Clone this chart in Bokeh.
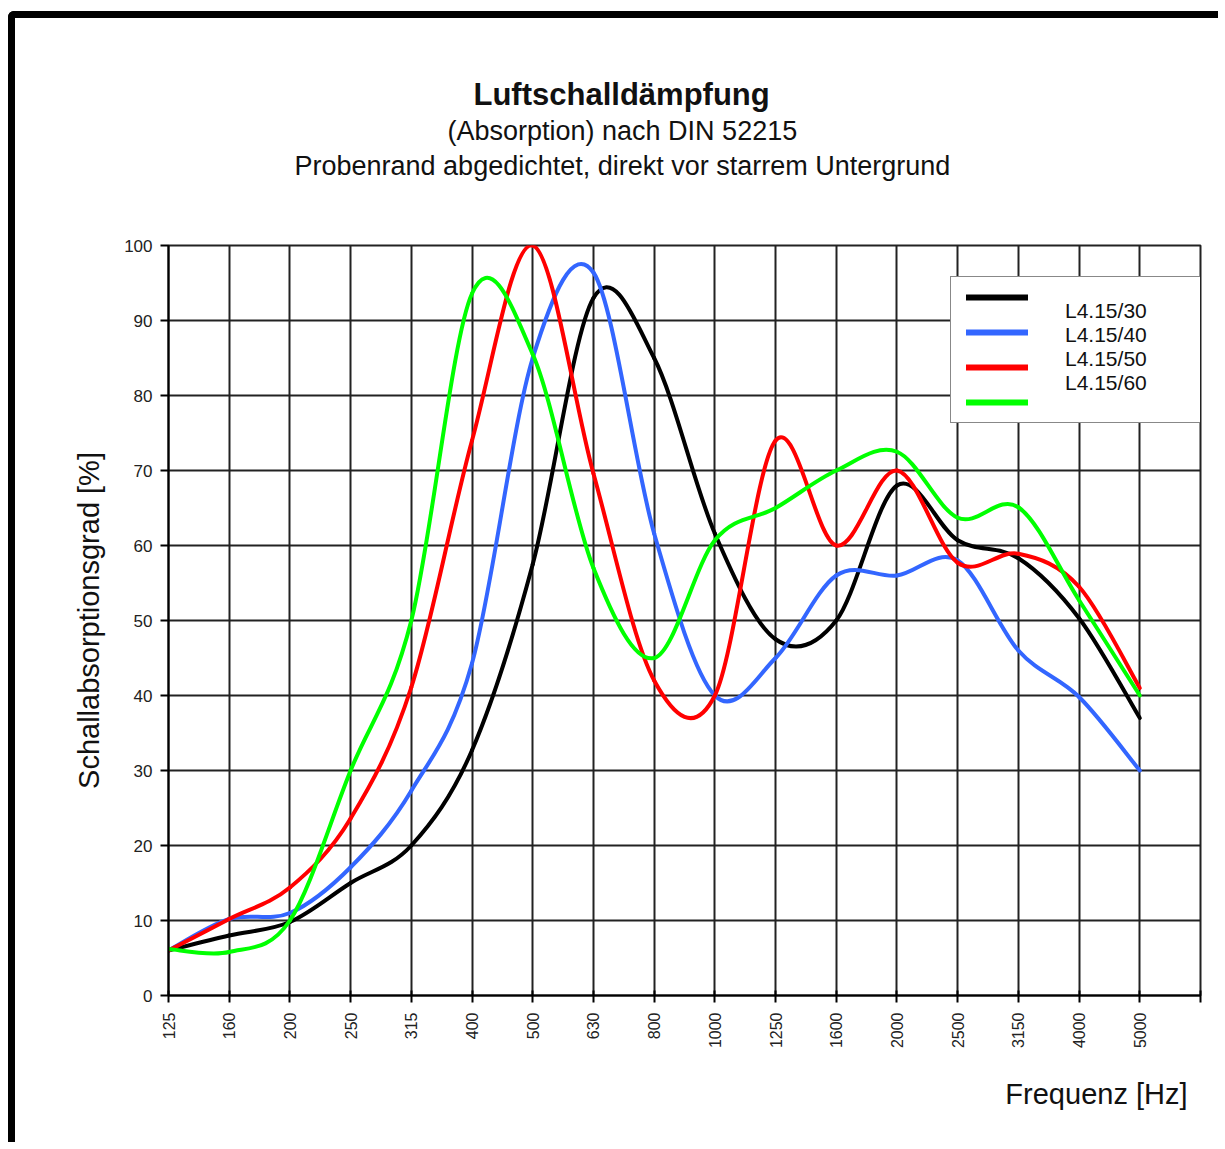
import math
import numpy as np
from bokeh.plotting import figure
from bokeh.models import Range1d, FixedTicker, Legend, LegendItem, Title
from bokeh.core.properties import value
from bokeh.embed import file_html
from bokeh.resources import INLINE

# ---- data ----
freqs = ["125", "160", "200", "250", "315", "400", "500", "630", "800", "1000",
         "1250", "1600", "2000", "2500", "3150", "4000", "5000"]
series_names = ["L4.15/30", "L4.15/40", "L4.15/50", "L4.15/60"]
l30 = [6.0, 8.0, 9.8, 15.0, 20.0, 32.7, 57.5, 93.0, 85.0, 61.6, 47.5, 50.0, 68.0, 60.7, 58.3, 50.3, 37.0]
l40 = [6.0, 10.2, 11.0, 17.1, 27.3, 44.3, 85.0, 96.4, 61.6, 40.0, 45.0, 56.0, 56.0, 58.0, 46.0, 39.8, 30.0]
l50 = [6.0, 10.2, 14.4, 23.6, 41.1, 74.0, 100.0, 69.6, 42.0, 40.0, 74.0, 60.0, 70.0, 57.7, 58.9, 54.5, 41.0]
l60 = [6.2, 5.8, 10.0, 30.0, 50.0, 93.6, 85.5, 57.0, 45.0, 60.7, 65.0, 70.0, 72.5, 63.7, 65.1, 52.7, 40.0]
y_ticks = [0, 10, 20, 30, 40, 50, 60, 70, 80, 90, 100]

colors = ["#000000", "#3366ff", "#ff0000", "#00ff00"]
FONT = "Liberation Sans"

p = figure(width=1210, height=1131, output_backend="svg", toolbar_location=None,
           title=None, x_range=Range1d(0, 17), y_range=Range1d(0, 100),
           min_border_left=153, min_border_top=227, min_border_right=25,
           min_border_bottom=154)
p.styles = {"border-top": "7px solid black", "border-left": "7px solid black",
            "border-top-left-radius": "6px", "margin-top": "11px", "margin-left": "8px"}
p.background_fill_color = "white"
p.border_fill_color = "white"
p.outline_line_color = "#222222"
p.outline_line_width = 2

# grid
p.xgrid.ticker = FixedTicker(ticks=list(range(len(freqs) + 1)))
p.ygrid.ticker = FixedTicker(ticks=y_ticks)
for g in (p.xgrid, p.ygrid):
    g.grid_line_color = "#222222"
    g.grid_line_width = 2

# axes
xa = p.xaxis[0]
xa.ticker = FixedTicker(ticks=list(range(len(freqs) + 1)))
xa.major_label_overrides = {i: f for i, f in enumerate(freqs)} | {len(freqs): ""}
xa.major_label_orientation = math.pi / 2
xa.major_label_text_font = FONT
xa.major_label_text_font_size = "16px"
xa.major_label_text_color = "#222222"
xa.major_label_standoff = 10
xa.major_tick_in = 5
xa.major_tick_out = 7
xa.minor_tick_line_color = None
xa.axis_line_width = 2
xa.major_tick_line_width = 2

ya = p.yaxis[0]
ya.ticker = FixedTicker(ticks=y_ticks)
ya.major_label_text_font = FONT
ya.major_label_text_font_size = "17px"
ya.major_label_text_color = "#222222"
ya.major_label_standoff = 8
ya.major_tick_in = 0
ya.major_tick_out = 8
ya.minor_tick_line_color = None
ya.axis_line_width = 2
ya.major_tick_line_width = 2
ya.axis_label = "Schallabsorptionsgrad [%]"
ya.axis_label_text_font = FONT
ya.axis_label_text_font_size = "29px"
ya.axis_label_text_font_style = "normal"
ya.axis_label_text_color = "#111111"
ya.axis_label_standoff = 16


def bezier_parts(vals):
    n = len(vals)
    x = np.arange(n, dtype=float)
    y = np.asarray(vals, dtype=float)
    xp = np.concatenate([[x[0]], x, [x[-1]]])
    yp = np.concatenate([[y[0]], y, [y[-1]]])
    cx0 = xp[1:n] + (xp[2:n + 1] - xp[0:n - 1]) / 6.0
    cy0 = yp[1:n] + (yp[2:n + 1] - yp[0:n - 1]) / 6.0
    cx1 = xp[2:n + 1] - (xp[3:n + 2] - xp[1:n]) / 6.0
    cy1 = yp[2:n + 1] - (yp[3:n + 2] - yp[1:n]) / 6.0
    return dict(x0=x[:-1], y0=y[:-1], x1=x[1:], y1=y[1:],
                cx0=cx0, cy0=cy0, cx1=cx1, cy1=cy1)


for vals, col in zip([l30, l40, l50, l60], colors):
    d = bezier_parts(vals)
    p.bezier(x0=d["x0"], y0=d["y0"], x1=d["x1"], y1=d["y1"],
             cx0=d["cx0"], cy0=d["cy0"], cx1=d["cx1"], cy1=d["cy1"],
             line_color=col, line_width=4, line_cap="round")

nan2 = [float("nan"), float("nan")]
# legend: box with the coloured lines
line_items = []
for col in colors:
    r = p.line(x=[0, 0], y=nan2, line_color=col, line_width=6, line_cap="round")
    line_items.append(LegendItem(label=value(""), renderers=[r]))
legend = Legend(items=line_items, location=(782, 572), padding=15, spacing=25,
                glyph_width=62, glyph_height=10, label_height=10,
                label_width=173, label_standoff=5,
                label_text_font_size="1px",
                border_line_color="#111111", border_line_width=1.5,
                background_fill_color="white", background_fill_alpha=1.0)
p.add_layout(legend, "center")

# legend: the series names (set as in the reference, between the lines)
text_items = []
for name in series_names:
    r = p.line(x=[0, 0], y=nan2, line_alpha=0)
    text_items.append(LegendItem(label=value(name), renderers=[r]))
legend2 = Legend(items=text_items, location=(896, 600), padding=0, spacing=0,
                 glyph_width=1, glyph_height=1, label_height=24, label_standoff=0,
                 label_text_font=FONT, label_text_font_size="21px",
                 label_text_color="#111111",
                 border_line_color=None, background_fill_alpha=0.0)
p.add_layout(legend2, "center")

# titles (first added = closest to the frame)
p.add_layout(Title(text=" ", text_font_size="10px", standoff=49.5), "above")
p.add_layout(Title(text="Probenrand abgedichtet, direkt vor starrem Untergrund",
                   text_font=FONT, text_font_size="27px", text_font_style="normal",
                   text_color="#111111", align="left", offset=126,
                   vertical_align="bottom", standoff=3), "above")
p.add_layout(Title(text="(Absorption) nach DIN 52215",
                   text_font=FONT, text_font_size="27px", text_font_style="normal",
                   text_color="#111111", align="left", offset=279,
                   vertical_align="bottom", standoff=3), "above")
p.add_layout(Title(text="Luftschalldämpfung",
                   text_font=FONT, text_font_size="31px", text_font_style="bold",
                   text_color="#111111", align="left", offset=305,
                   vertical_align="bottom", standoff=2), "above")

# x axis title, right aligned below the axis as in the reference
p.add_layout(Title(text="Frequenz [Hz]", text_font=FONT, text_font_size="29px",
                   text_font_style="normal", text_color="#111111",
                   align="right", offset=13, vertical_align="bottom",
                   standoff=49), "below")

open("out.html", "w").write(file_html(p, INLINE))
